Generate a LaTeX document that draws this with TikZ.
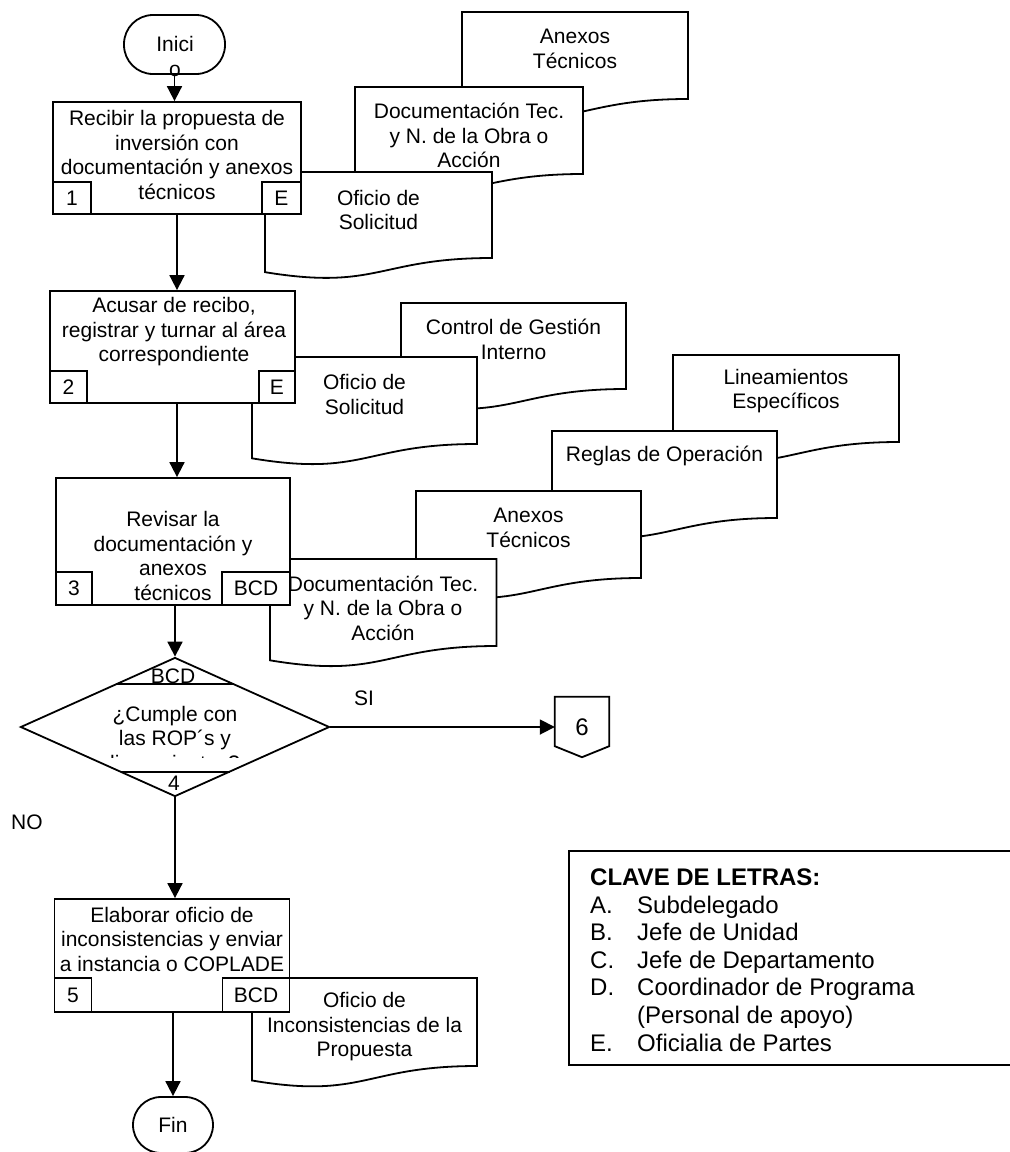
\documentclass[tikz,border=0pt]{standalone}
\usepackage{fontspec}
\setmainfont{Liberation Sans}
\usetikzlibrary{arrows.meta,shapes.geometric,calc}
\newcommand\ftxt{\fontsize{21}{24.5}\selectfont}
\newcommand\lfont{\fontsize{24}{27.5}\selectfont}
\newcommand\docshape[4]{%
  \pgfmathsetmacro\mydH{(#4-#2)/0.802}%
  \pgfmathsetmacro\mydL{#2+0.934*\mydH}%
  \pgfmathsetmacro\mydC{#2+1.1075*\mydH}%
  \pgfmathsetmacro\mydM{(#1+#3)/2}%
  \filldraw[doc] (#1,#2) -- (#3,#2) -- (#3,#4) .. controls (\mydM,#4) and (\mydM,\mydC) .. (#1,\mydL) -- cycle;%
}
\tikzset{
  ln/.style={line width=1.8pt},
  doc/.style={ln, fill=white, draw=black},
  proc/.style={ln, draw, fill=white, inner sep=0pt},
  sub/.style={ln, draw, fill=white, inner sep=0pt, minimum height=32pt, font=\ftxt},
  txt/.style={inner sep=0pt, align=center, font=\ftxt},
  leg/.style={inner sep=0pt, anchor=base west, font=\lfont},
  arr/.style={ln, -{Triangle[length=15pt,width=15pt]}},
  term/.style={ln, draw, fill=white, rounded corners=29pt, inner sep=0pt},
}
\begin{document}
\begin{tikzpicture}[x=1pt,y=-1pt]
\useasboundingbox (0,0) rectangle (1010,1152);
% ---------- documents of step 1
\docshape{462}{12}{688}{99}
\node[txt] (t1a) at (575,49) {Anexos\\Técnicos};
\docshape{355}{87}{583}{174}
\node[txt] (t1b) at (469,135.5) {Documentación Tec.\\y N. de la Obra o\\Acción};
\docshape{265}{172}{492}{258}
\node[txt] (t1c) at (378.5,210) {Oficio de\\Solicitud};
% ---------- documents of step 2
\docshape{401}{303}{626}{389}
\node[txt] (t2a) at (513.5,339.5) {Control de Gestión\\Interno};
\docshape{252}{357}{477}{444}
\node[txt] (t2b) at (364.5,394.5) {Oficio de\\Solicitud};
% ---------- documents of step 3
\docshape{673}{355}{899}{442}
\node[txt] (t3a) at (786,391) {Lineamientos\\Específicos};
\docshape{552}{431}{777}{518}
\node[txt] (t3b) at (664.5,456) {Reglas de Operación};
\docshape{416}{491}{641}{578}
\node[txt] (t3c) at (528.5,528) {Anexos\\Técnicos};
\docshape{270}{559}{496.5}{646}
\node[txt] (t3d) at (383,608) {Documentación Tec.\\y N. de la Obra o\\Acción};
% ---------- document of step 5
\docshape{252}{978}{477}{1066}
\node[txt] (t5) at (364.5,1027) {Oficio de\\Inconsistencias de la\\Propuesta};
% ---------- start
\node[term, minimum width=101pt, minimum height=59pt] (st) at (174.5,44.5) {};
\node[txt] (stt) at (175,56.5) {Inici\\o};
% ---------- step 1
\node[proc, minimum width=248pt, minimum height=112pt] (b1) at (177,158) {};
\node[sub, minimum width=38pt, anchor=south west] (b1n) at (b1.south west) {1};
\node[sub, minimum width=39pt, anchor=south east] (b1r) at (b1.south east) {E};
\node[txt] (b1t) at (177,155) {Recibir la propuesta de\\inversión con\\documentación y anexos\\técnicos};
% ---------- step 2
\node[proc, minimum width=245pt, minimum height=112pt] (b2) at (172.5,347) {};
\node[sub, minimum width=37pt, anchor=south west] (b2n) at (b2.south west) {2};
\node[sub, minimum width=36pt, anchor=south east] (b2r) at (b2.south east) {E};
\node[txt] (b2t) at (174,332) {Acusar de recibo,\\registrar y turnar al área\\correspondiente};
% ---------- step 3
\node[proc, minimum width=234pt, minimum height=127pt] (b3) at (173,541.5) {};
\node[sub, minimum width=36pt, minimum height=33pt, anchor=south west] (b3n) at (b3.south west) {3};
\node[sub, minimum width=68pt, minimum height=33pt, anchor=south east] (b3r) at (b3.south east) {BCD};
\node[txt] (b3t) at (173,556) {Revisar la\\documentación y\\anexos\\técnicos};
% ---------- decision 4
\node[ln, draw, fill=white, diamond, inner sep=0pt, minimum width=309pt, minimum height=139pt] (dec) at (175,727) {};
\draw[ln] ($(dec.center)+(-58.9,-43)$) -- ++(117.8,0);
\draw[ln] ($(dec.center)+(-54.5,45)$) -- ++(109,0);
\node[txt] (dbcd) at (173,676) {BCD};
\node[txt] (dnum) at (174,783) {4};
\node[txt] (dt) at (175,728) {¿Cumple con\\las ROP´s y};
\begin{scope}
\clip (60,740) rectangle (290,757);
\node[txt] (dt3) at (175,762.5) {lineamientos?};
\end{scope}
% ---------- connector 6
\node[inner sep=0pt, minimum width=54pt, minimum height=60pt, font=\fontsize{24}{28}\selectfont] (c6) at (582,727) {6};
\draw[ln] (c6.north west) -- (c6.north east) -- ($(c6.south east)+(0,-11)$) -- (c6.south) -- ($(c6.south west)+(0,-11)$) -- cycle;
\node[txt] (si) at (364,698) {SI};
\node[txt] (no) at (27,822) {NO};
% ---------- step 5
\node[proc, minimum width=235pt, minimum height=113pt] (b5) at (172,955.5) {};
\node[sub, minimum width=37pt, minimum height=34pt, anchor=south west] (b5n) at (b5.south west) {5};
\node[sub, minimum width=67pt, minimum height=34pt, anchor=south east] (b5r) at (b5.south east) {BCD};
\node[txt] (b5t) at (172,939) {Elaborar oficio de\\inconsistencias y enviar\\a instancia o COPLADE};
% ---------- end
\node[term, rounded corners=28pt, minimum width=80pt, minimum height=56pt, font=\ftxt] (fin) at (173,1125) {Fin};
% ---------- arrows
\draw[arr] (st.south) -- (st.south |- b1.north);
\draw[arr] (b1.south) -- (b1.south |- b2.north);
\draw[arr] (b1.south |- b2.south) -- (b1.south |- b3.north);
\draw[arr] (dec.north |- b3.south) -- (dec.north);
\draw[arr] (dec.east) -- (c6.west);
\draw[arr] (dec.south) -- (dec.south |- b5.north);
\draw[arr] (fin.north |- b5.south) -- (fin.north);
% ---------- legend
\draw[ln] (1012,851) -- (569,851) -- (569,1065) -- (1012,1065);
\node[leg, font=\lfont\bfseries] (lh) at (590,885.3) {CLAVE DE LETRAS:};
\node[leg] (la) at (590,913) {A.};
\node[leg] (lat) at (637,913) {Subdelegado};
\node[leg] (lb) at (590,940.5) {B.};
\node[leg] (lbt) at (637,940.5) {Jefe de Unidad};
\node[leg] (lc) at (590,968) {C.};
\node[leg] (lct) at (637,968) {Jefe de Departamento};
\node[leg] (ld) at (590,995.5) {D.};
\node[leg] (ldt) at (637,995.5) {Coordinador de Programa};
\node[leg] (ldt2) at (637,1023) {(Personal de apoyo)};
\node[leg] (le) at (590,1051.5) {E.};
\node[leg] (let) at (637,1051.5) {Oficialia de Partes};
\end{tikzpicture}
\end{document}
